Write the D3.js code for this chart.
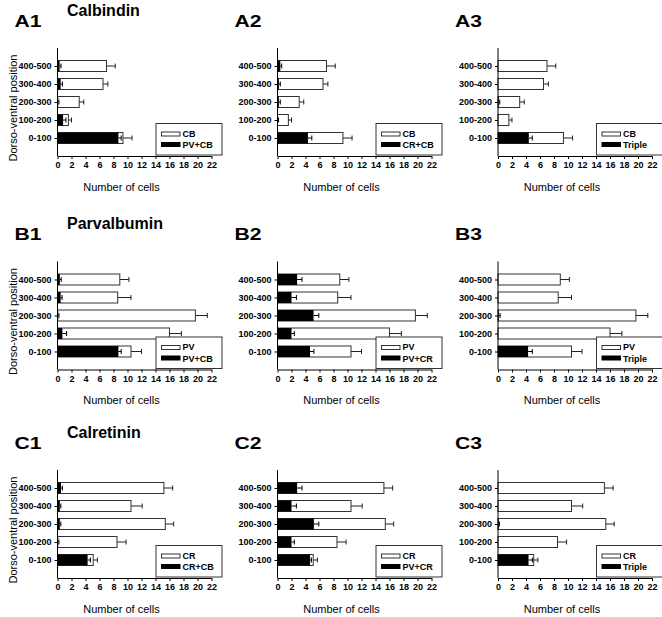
<!DOCTYPE html>
<html>
<head>
<meta charset="utf-8">
<script src="https://cdn.jsdelivr.net/npm/d3@7"></script>
<style>
  html, body { margin: 0; padding: 0; background: #fff; }
  svg { display: block; font-family: Arial, "Liberation Sans", Helvetica, sans-serif; }
</style>
</head>
<body>
<svg id="chart" width="662" height="617"></svg>
<script>
// ---------------- DATA (order: 0-100, 100-200, 200-300, 300-400, 400-500) ----------------
const positions = ["0-100", "100-200", "200-300", "300-400", "400-500"];
const xTicks = [0, 2, 4, 6, 8, 10, 12, 14, 16, 18, 20, 22];

const CB_mean = [9.35, 1.55, 3.1, 6.5, 7.0];
const CB_err  = [1.3, 0.45, 0.65, 0.7, 1.25];
const PVCB_inCB_mean = [8.7, 0.8, 0.1, 0.45, 0.3];
const PVCB_inCB_err  = [0.4, 0.4, 0.1, 0.25, 0.2];
const CRCB_inCB_mean = [4.35, 0.05, 0.2, 0.2, 0.4];
const CRCB_inCB_err  = [0.55, 0.1, 0.2, 0.2, 0.2];
const Triple_inCB_mean = [4.4, 0, 0.1, 0, 0];
const Triple_inCB_err  = [0.5, 0, 0.15, 0, 0];

const PV_mean = [10.5, 16.0, 19.7, 8.6, 8.9];
const PV_err  = [1.5, 1.7, 1.7, 1.9, 1.3];
const PVCB_inPV_mean = [8.7, 0.7, 0.1, 0.45, 0.33];
const PVCB_inPV_err  = [0.4, 0.6, 0.1, 0.2, 0.2];
const PVCR_inPV_mean = [4.65, 2.0, 5.15, 2.0, 2.8];
const PVCR_inPV_err  = [0.55, 0.4, 0.75, 0.7, 0.7];
const Triple_inPV_mean = [4.3, 0, 0.1, 0, 0];
const Triple_inPV_err  = [0.6, 0, 0.2, 0, 0];

const CR_mean = [5.1, 8.5, 15.4, 10.5, 15.2];
const CR_err  = [0.6, 1.3, 1.2, 1.6, 1.25];
const CRCB_inCR_mean = [4.3, 0.1, 0.33, 0.33, 0.5];
const CRCB_inCR_err  = [0.4, 0.1, 0.15, 0.15, 0.2];
const PVCR_inCR_mean = [4.65, 2.0, 5.2, 2.0, 2.8];
const PVCR_inCR_err  = [0.2, 0.4, 0.7, 0.7, 0.7];
const Triple_inCR_mean = [4.36, 0, 0.1, 0, 0];
const Triple_inCR_err  = [0.55, 0, 0.1, 0, 0];

const rowTitles = ["Calbindin", "Parvalbumin", "Calretinin"];

const panels = [
  {id:"A1", r:0, c:0, w:CB_mean, we:CB_err, b:PVCB_inCB_mean, be:PVCB_inCB_err, wn:"CB", bn:"PV+CB"},
  {id:"A2", r:0, c:1, w:CB_mean, we:CB_err, b:CRCB_inCB_mean, be:CRCB_inCB_err, wn:"CB", bn:"CR+CB"},
  {id:"A3", r:0, c:2, w:CB_mean, we:CB_err, b:Triple_inCB_mean, be:Triple_inCB_err, wn:"CB", bn:"Triple"},
  {id:"B1", r:1, c:0, w:PV_mean, we:PV_err, b:PVCB_inPV_mean, be:PVCB_inPV_err, wn:"PV", bn:"PV+CB"},
  {id:"B2", r:1, c:1, w:PV_mean, we:PV_err, b:PVCR_inPV_mean, be:PVCR_inPV_err, wn:"PV", bn:"PV+CR"},
  {id:"B3", r:1, c:2, w:PV_mean, we:PV_err, b:Triple_inPV_mean, be:Triple_inPV_err, wn:"PV", bn:"Triple"},
  {id:"C1", r:2, c:0, w:CR_mean, we:CR_err, b:CRCB_inCR_mean, be:CRCB_inCR_err, wn:"CR", bn:"CR+CB"},
  {id:"C2", r:2, c:1, w:CR_mean, we:CR_err, b:PVCR_inCR_mean, be:PVCR_inCR_err, wn:"CR", bn:"PV+CR"},
  {id:"C3", r:2, c:2, w:CR_mean, we:CR_err, b:Triple_inCR_mean, be:Triple_inCR_err, wn:"CR", bn:"Triple"}
];

// ---------------- LAYOUT ----------------
const originX = [57.5, 277.5, 498];
const topY = [48, 261.5, 470];
const plotH = 108, plotW = 154;
const barH = 11;
const svg = d3.select("#chart");

panels.forEach(p => {
  const ox = originX[p.c], ty = topY[p.r], by = ty + plotH;
  const g = svg.append("g").attr("transform", `translate(${ox},${ty})`);
  const x = d3.scaleLinear().domain([0, 22]).range([0, plotW]);
  const y = d3.scalePoint().domain(positions).range([plotH - 18, 18]);

  // titles
  svg.append("text").attr("x", ox - 43).attr("y", ty - 21.5)
    .attr("font-size", 17).attr("font-weight", "bold")
    .attr("textLength", 27).attr("lengthAdjust", "spacingAndGlyphs")
    .text(p.id);
  if (p.c === 0) {
    svg.append("text").attr("x", ox + 9.5).attr("y", ty - 32.3)
      .attr("font-size", 16).attr("font-weight", "bold").text(rowTitles[p.r]);
    svg.append("text")
      .attr("transform", `translate(${ox - 45},${ty + plotH / 2 + 6}) rotate(-90)`)
      .attr("text-anchor", "middle").attr("dominant-baseline", "central")
      .attr("font-size", 11).text("Dorso-ventral position");
  }

  // bars
  const idx = d3.range(positions.length);
  g.selectAll("rect.w").data(idx).join("rect").attr("class", "w")
    .attr("x", 0).attr("y", i => y(positions[i]) - barH / 2)
    .attr("width", i => x(p.w[i])).attr("height", barH)
    .attr("fill", "#fff").attr("stroke", "#333").attr("stroke-width", 1);
  const errG = (vals, errs, color) => {
    idx.forEach(i => {
      if (errs[i] <= 0) return;
      const yy = y(positions[i]);
      g.append("line").attr("x1", x(vals[i])).attr("x2", x(vals[i] + errs[i]))
        .attr("y1", yy).attr("y2", yy).attr("stroke", color).attr("stroke-width", 1);
      g.append("line").attr("x1", x(vals[i] + errs[i])).attr("x2", x(vals[i] + errs[i]))
        .attr("y1", yy - 2.5).attr("y2", yy + 2.5).attr("stroke", color).attr("stroke-width", 1);
    });
  };
  errG(p.w, p.we, "#222");
  g.selectAll("rect.b").data(idx).join("rect").attr("class", "b")
    .attr("x", 0).attr("y", i => y(positions[i]) - barH / 2)
    .attr("width", i => x(p.b[i])).attr("height", barH)
    .attr("fill", "#000");
  errG(p.b, p.be, "#000");

  // axes
  const xa = g.append("g").attr("transform", `translate(0,${plotH})`)
    .call(d3.axisBottom(x).tickValues(xTicks).tickSize(3).tickSizeOuter(0).tickPadding(3));
  xa.selectAll("text").attr("font-size", 9).attr("font-weight", "bold")
    .attr("font-family", "Arial, 'Liberation Sans', sans-serif").attr("fill", "#000");
  xa.select(".domain").attr("stroke", "#000");

  const ya = g.append("g").call(d3.axisLeft(y).tickSize(3).tickPadding(3));
  ya.select(".domain").remove();
  ya.selectAll("text").attr("font-size", 9).attr("font-weight", "bold")
    .attr("font-family", "Arial, 'Liberation Sans', sans-serif").attr("fill", "#000");
  g.append("line").attr("x1", 0).attr("x2", 0).attr("y1", 0).attr("y2", plotH)
    .attr("stroke", "#000");

  // x label
  g.append("text").attr("x", 64).attr("y", plotH + 30.5)
    .attr("text-anchor", "middle").attr("dominant-baseline", "central")
    .attr("font-size", 11).text("Number of cells");

  // legend
  const lg = g.append("g").attr("transform", `translate(98,${plotH - 33})`);
  lg.append("rect").attr("x", 0.5).attr("y", 0.5).attr("width", 66).attr("height", 31.5)
    .attr("fill", "#fff").attr("stroke", "#333");
  lg.append("rect").attr("x", 6).attr("y", 9).attr("width", 18.5).attr("height", 4)
    .attr("fill", "#fff").attr("stroke", "#333");
  lg.append("rect").attr("x", 5.5).attr("y", 19).attr("width", 19.5).attr("height", 5)
    .attr("fill", "#000");
  lg.append("text").attr("x", 27).attr("y", 10.8).attr("dominant-baseline", "central")
    .attr("font-size", 9).attr("font-weight", "bold").text(p.wn);
  lg.append("text").attr("x", 27).attr("y", 22.4).attr("dominant-baseline", "central")
    .attr("font-size", 9).attr("font-weight", "bold").text(p.bn);
});
</script>
</body>
</html>
